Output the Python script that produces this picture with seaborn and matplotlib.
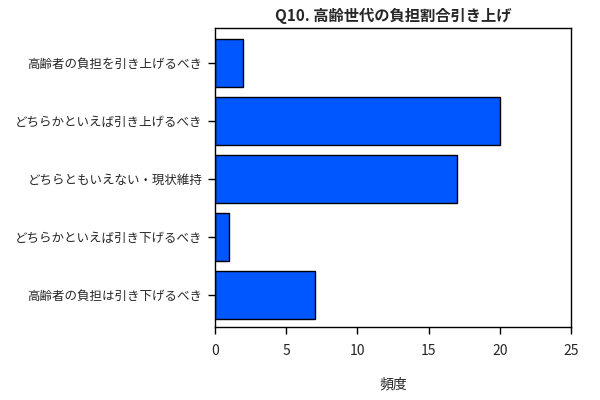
import matplotlib
matplotlib.use("Agg")
import matplotlib.pyplot as plt
import pandas as pd
import seaborn as sns

answers = ['高齢者の負担を引き上げるべき',
           'どちらかといえば引き上げるべき',
           'どちらともいえない・現状維持',
           'どちらかといえば引き下げるべき',
           '高齢者の負担は引き下げるべき']
counts = [2, 20, 17, 1, 7]
xticks = [0, 5, 10, 15, 20, 25]

sns.set_style('ticks')
plt.rcParams['font.family'] = ['Noto Sans CJK JP', 'DejaVu Sans']

df = pd.DataFrame({'answer': answers, 'count': counts})

fig = plt.figure(figsize=(6, 4), dpi=100)
ax = fig.add_axes([0.358, 0.1825, 0.594, 0.7465])
sns.barplot(data=df, x='count', y='answer', orient='h', color='#0057FF',
            saturation=1, width=0.83, edgecolor='black', linewidth=1, ax=ax)

ax.set_xlim(0, 25)
ax.set_ylim(4.55, -0.595)
ax.set_xticks(xticks)
ax.set_xticklabels([str(t) for t in xticks])
ax.tick_params(axis='y', labelsize=9, length=5, width=1, color='black', pad=4)
ax.tick_params(axis='x', labelsize=10, length=5, width=1, color='black', pad=7)
for s in ax.spines.values():
    s.set_visible(True)
    s.set_color('black')
    s.set_linewidth(1)
ax.set_ylabel('')
ax.set_xlabel('頻度', fontsize=10, labelpad=14)
ax.set_title('Q10. 高齢世代の負担割合引き上げ', fontsize=11, fontweight='bold', pad=5)

fig.savefig('out.png', dpi=100)
